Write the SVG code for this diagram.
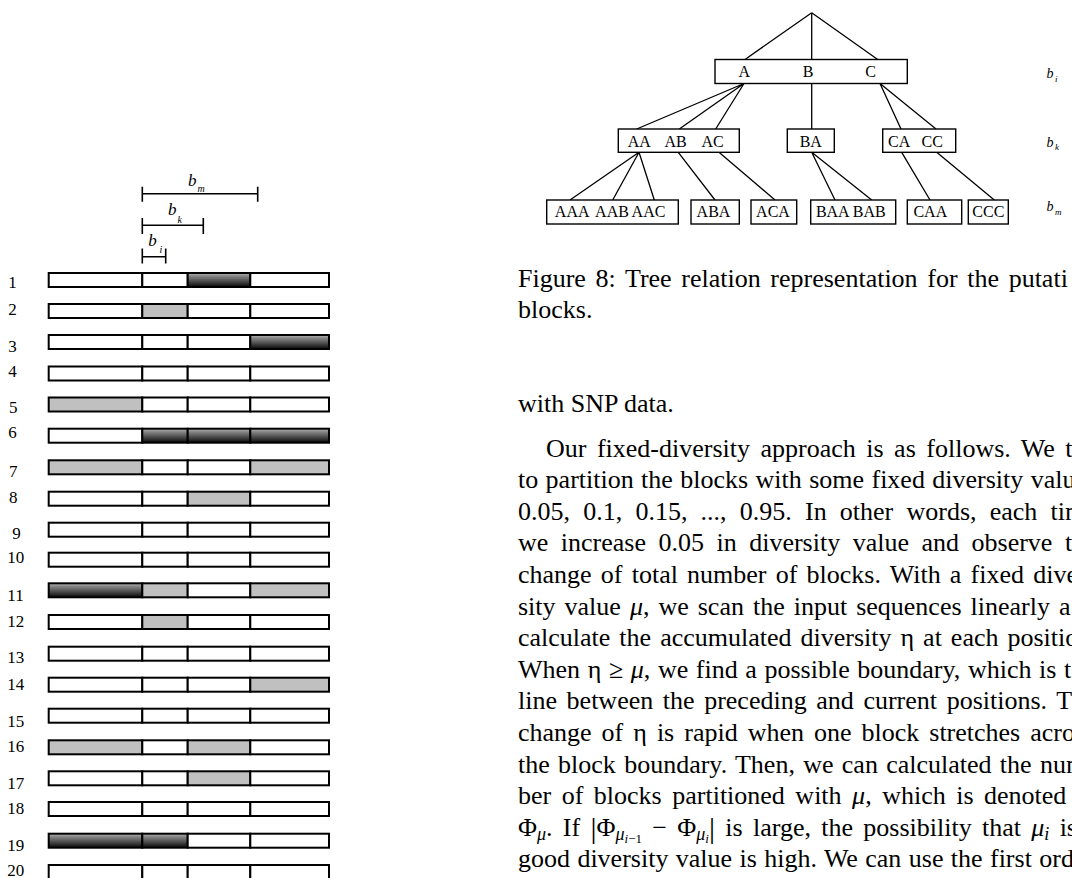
<svg xmlns="http://www.w3.org/2000/svg" width="1072" height="878" viewBox="0 0 1072 878">
<defs>
<linearGradient id="dk" x1="0" y1="0" x2="0" y2="1">
<stop offset="0" stop-color="#b8b8b8"/>
<stop offset="0.2" stop-color="#8a8a8a"/>
<stop offset="0.6" stop-color="#4a4a4a"/>
<stop offset="1" stop-color="#080808"/>
</linearGradient>
</defs>
<style>
.s{font-family:"Liberation Serif","Times New Roman",serif}
.lbl{font-size:17px}
.t{font-size:16px;text-anchor:middle}
.body{font-size:26px}
.it{font-style:italic}
.seg{stroke:#000;stroke-width:2}
.w{fill:#fff}
.g{fill:#c0c0c0}
.d{fill:url(#dk)}
.ln{stroke:#000;stroke-width:1.3;fill:none}
.box{fill:#fff;stroke:#000;stroke-width:1.4}
.dim{stroke:#000;stroke-width:1.6;fill:none}
</style>
<rect width="1072" height="878" fill="#fff"/>

<!-- left figure: scale bars -->
<g id="scales">
<path class="dim" d="M142.3 193.7H257.7M142.3 186.7V201.7M257.7 186.7V201.7"/>
<path class="dim" d="M142.3 225.3H203.3M142.3 218V234M203.3 218V234"/>
<path class="dim" d="M142.3 256.7H165.7M142.3 248.5V263.5M165.7 248.5V263.5"/>
<text class="s it" x="188" y="186" font-size="17">b</text><text class="s it" x="197.5" y="191.5" font-size="10">m</text>
<text class="s it" x="168" y="215" font-size="17">b</text><text class="s it" x="177.5" y="223" font-size="10">k</text>
<text class="s it" x="148.3" y="246" font-size="17">b</text><text class="s it" x="159.5" y="252.5" font-size="10">i</text>
</g>

<!-- rows -->
<g id="row1"><text class="s lbl" x="8.3" y="288">1</text><rect class="seg w" x="48.7" y="273" width="93.6" height="14"/><rect class="seg w" x="142.3" y="273" width="45.4" height="14"/><rect class="seg d" x="187.7" y="273" width="62.6" height="14"/><rect class="seg w" x="250.3" y="273" width="78.7" height="14"/></g>
<g id="row2"><text class="s lbl" x="8.3" y="315">2</text><rect class="seg w" x="48.7" y="304" width="93.6" height="14"/><rect class="seg g" x="142.3" y="304" width="45.4" height="14"/><rect class="seg w" x="187.7" y="304" width="62.6" height="14"/><rect class="seg w" x="250.3" y="304" width="78.7" height="14"/></g>
<g id="row3"><text class="s lbl" x="8.3" y="352">3</text><rect class="seg w" x="48.7" y="335" width="93.6" height="14"/><rect class="seg w" x="142.3" y="335" width="45.4" height="14"/><rect class="seg w" x="187.7" y="335" width="62.6" height="14"/><rect class="seg d" x="250.3" y="335" width="78.7" height="14"/></g>
<g id="row4"><text class="s lbl" x="8.3" y="377">4</text><rect class="seg w" x="48.7" y="366.5" width="93.6" height="14"/><rect class="seg w" x="142.3" y="366.5" width="45.4" height="14"/><rect class="seg w" x="187.7" y="366.5" width="62.6" height="14"/><rect class="seg w" x="250.3" y="366.5" width="78.7" height="14"/></g>
<g id="row5"><text class="s lbl" x="9" y="413">5</text><rect class="seg g" x="48.7" y="397.5" width="93.6" height="14"/><rect class="seg w" x="142.3" y="397.5" width="45.4" height="14"/><rect class="seg w" x="187.7" y="397.5" width="62.6" height="14"/><rect class="seg w" x="250.3" y="397.5" width="78.7" height="14"/></g>
<g id="row6"><text class="s lbl" x="8.3" y="437.5">6</text><rect class="seg w" x="48.7" y="428.7" width="93.6" height="14"/><rect class="seg d" x="142.3" y="428.7" width="45.4" height="14"/><rect class="seg d" x="187.7" y="428.7" width="62.6" height="14"/><rect class="seg d" x="250.3" y="428.7" width="78.7" height="14"/></g>
<g id="row7"><text class="s lbl" x="9" y="476.5">7</text><rect class="seg g" x="48.7" y="460.3" width="93.6" height="14"/><rect class="seg w" x="142.3" y="460.3" width="45.4" height="14"/><rect class="seg w" x="187.7" y="460.3" width="62.6" height="14"/><rect class="seg g" x="250.3" y="460.3" width="78.7" height="14"/></g>
<g id="row8"><text class="s lbl" x="9" y="502.7">8</text><rect class="seg w" x="48.7" y="491.7" width="93.6" height="14"/><rect class="seg w" x="142.3" y="491.7" width="45.4" height="14"/><rect class="seg g" x="187.7" y="491.7" width="62.6" height="14"/><rect class="seg w" x="250.3" y="491.7" width="78.7" height="14"/></g>
<g id="row9"><text class="s lbl" x="12.3" y="539">9</text><rect class="seg w" x="48.7" y="522.7" width="93.6" height="14"/><rect class="seg w" x="142.3" y="522.7" width="45.4" height="14"/><rect class="seg w" x="187.7" y="522.7" width="62.6" height="14"/><rect class="seg w" x="250.3" y="522.7" width="78.7" height="14"/></g>
<g id="row10"><text class="s lbl" x="7.3" y="563.3">10</text><rect class="seg w" x="48.7" y="552.7" width="93.6" height="14"/><rect class="seg w" x="142.3" y="552.7" width="45.4" height="14"/><rect class="seg w" x="187.7" y="552.7" width="62.6" height="14"/><rect class="seg w" x="250.3" y="552.7" width="78.7" height="14"/></g>
<g id="row11"><text class="s lbl" x="7.3" y="600.7">11</text><rect class="seg d" x="48.7" y="583.3" width="93.6" height="14"/><rect class="seg g" x="142.3" y="583.3" width="45.4" height="14"/><rect class="seg w" x="187.7" y="583.3" width="62.6" height="14"/><rect class="seg g" x="250.3" y="583.3" width="78.7" height="14"/></g>
<g id="row12"><text class="s lbl" x="7.3" y="627">12</text><rect class="seg w" x="48.7" y="615" width="93.6" height="14"/><rect class="seg g" x="142.3" y="615" width="45.4" height="14"/><rect class="seg w" x="187.7" y="615" width="62.6" height="14"/><rect class="seg w" x="250.3" y="615" width="78.7" height="14"/></g>
<g id="row13"><text class="s lbl" x="7.3" y="663.3">13</text><rect class="seg w" x="48.7" y="646.7" width="93.6" height="14"/><rect class="seg w" x="142.3" y="646.7" width="45.4" height="14"/><rect class="seg w" x="187.7" y="646.7" width="62.6" height="14"/><rect class="seg w" x="250.3" y="646.7" width="78.7" height="14"/></g>
<g id="row14"><text class="s lbl" x="7.3" y="690">14</text><rect class="seg w" x="48.7" y="677.7" width="93.6" height="14"/><rect class="seg w" x="142.3" y="677.7" width="45.4" height="14"/><rect class="seg w" x="187.7" y="677.7" width="62.6" height="14"/><rect class="seg g" x="250.3" y="677.7" width="78.7" height="14"/></g>
<g id="row15"><text class="s lbl" x="7.3" y="726.7">15</text><rect class="seg w" x="48.7" y="708.7" width="93.6" height="14"/><rect class="seg w" x="142.3" y="708.7" width="45.4" height="14"/><rect class="seg w" x="187.7" y="708.7" width="62.6" height="14"/><rect class="seg w" x="250.3" y="708.7" width="78.7" height="14"/></g>
<g id="row16"><text class="s lbl" x="7.3" y="751.7">16</text><rect class="seg g" x="48.7" y="740.3" width="93.6" height="14"/><rect class="seg w" x="142.3" y="740.3" width="45.4" height="14"/><rect class="seg g" x="187.7" y="740.3" width="62.6" height="14"/><rect class="seg w" x="250.3" y="740.3" width="78.7" height="14"/></g>
<g id="row17"><text class="s lbl" x="7.3" y="789.3">17</text><rect class="seg w" x="48.7" y="771.3" width="93.6" height="14"/><rect class="seg w" x="142.3" y="771.3" width="45.4" height="14"/><rect class="seg g" x="187.7" y="771.3" width="62.6" height="14"/><rect class="seg w" x="250.3" y="771.3" width="78.7" height="14"/></g>
<g id="row18"><text class="s lbl" x="7.3" y="814">18</text><rect class="seg w" x="48.7" y="802" width="93.6" height="14"/><rect class="seg w" x="142.3" y="802" width="45.4" height="14"/><rect class="seg w" x="187.7" y="802" width="62.6" height="14"/><rect class="seg w" x="250.3" y="802" width="78.7" height="14"/></g>
<g id="row19"><text class="s lbl" x="7.3" y="850.7">19</text><rect class="seg d" x="48.7" y="833.7" width="93.6" height="14"/><rect class="seg d" x="142.3" y="833.7" width="45.4" height="14"/><rect class="seg w" x="187.7" y="833.7" width="62.6" height="14"/><rect class="seg w" x="250.3" y="833.7" width="78.7" height="14"/></g>
<g id="row20"><text class="s lbl" x="7.3" y="876">20</text><rect class="seg w" x="48.7" y="865" width="93.6" height="14"/><rect class="seg w" x="142.3" y="865" width="45.4" height="14"/><rect class="seg w" x="187.7" y="865" width="62.6" height="14"/><rect class="seg w" x="250.3" y="865" width="78.7" height="14"/></g>

<!-- tree connectors -->
<g id="connectors">
<path class="ln" d="M811.7 12.7L745 59.5M811.7 12.7V59.5M811.7 12.7L877.7 59.5"/>
<path class="ln" d="M744 83.5L636.7 129M744 83.5L679.3 129M744 83.5L715.7 129M811.7 83.5V129M880 83.5L901 129M880 83.5L936 129"/>
<path class="ln" d="M639 152.3L570 200M639 152.3L612.7 200M639 152.3L654.3 200M678.3 152.3L715 200M719 152.3L775 200M811.7 152.3L835 200M811.7 152.3L871.7 200M901.7 152.3L930 200M936.7 152.3L994.3 200"/>
</g>

<!-- tree nodes -->
<g id="nodeABC"><rect class="box" x="715" y="59.5" width="192.3" height="24"/><text class="s t" x="744.3" y="77.3">A</text><text class="s t" x="808" y="77.3">B</text><text class="s t" x="870.5" y="77.3">C</text></g>
<g id="nodeAA"><rect class="box" x="618.3" y="129" width="121" height="23.3"/><text class="s t" x="639.2" y="147.3">AA</text><text class="s t" x="675.5" y="147.3">AB</text><text class="s t" x="712.5" y="147.3">AC</text></g>
<g id="nodeBA"><rect class="box" x="787.3" y="129" width="47" height="23.3"/><text class="s t" x="810.8" y="147.3">BA</text></g>
<g id="nodeCA"><rect class="box" x="882.7" y="129" width="73" height="23.3"/><text class="s t" x="899.2" y="147.3">CA</text><text class="s t" x="932.2" y="147.3">CC</text></g>
<g id="nodeAAA"><rect class="box" x="546.7" y="200" width="131.6" height="24"/><text class="s t" x="572.2" y="216.7">AAA</text><text class="s t" x="612" y="216.7">AAB</text><text class="s t" x="648.5" y="216.7">AAC</text></g>
<g id="nodeABA"><rect class="box" x="691" y="200" width="48.3" height="24"/><text class="s t" x="713.5" y="216.7">ABA</text></g>
<g id="nodeACA"><rect class="box" x="751" y="200" width="45.7" height="24"/><text class="s t" x="773" y="216.7">ACA</text></g>
<g id="nodeBAA"><rect class="box" x="810.7" y="200" width="85" height="24"/><text class="s t" x="850.8" y="216.7">BAA BAB</text></g>
<g id="nodeCAA"><rect class="box" x="907.3" y="200" width="54.4" height="24"/><text class="s t" x="930.3" y="216.7">CAA</text></g>
<g id="nodeCCC"><rect class="box" x="968.3" y="200" width="40" height="24"/><text class="s t" x="988.3" y="216.7">CCC</text></g>
<g id="levels">
<text class="s it" x="1046.5" y="78" font-size="14">b</text><text class="s it" x="1055" y="81.5" font-size="9">i</text>
<text class="s it" x="1046.5" y="146.7" font-size="14">b</text><text class="s it" x="1055" y="150.2" font-size="9">k</text>
<text class="s it" x="1046.5" y="211" font-size="14">b</text><text class="s it" x="1055" y="214.5" font-size="9">m</text>
</g>

<!-- caption and body text -->
<g id="text" class="s body">
<text x="518" y="286.7" word-spacing="3.15">Figure 8: Tree relation representation for the putati</text>
<text x="518" y="318.3">blocks.</text>
<text x="518" y="412">with SNP data.</text>
<text x="546" y="456.5" word-spacing="4">Our fixed-diversity approach is as follows. We t</text>
<text x="518" y="488.1" word-spacing="0.9">to partition the blocks with some fixed diversity valu</text>
<text x="518" y="519.7" word-spacing="6.7">0.05, 0.1, 0.15, ..., 0.95. In other words, each tim</text>
<text x="518" y="551.3" word-spacing="6">we increase 0.05 in diversity value and observe t</text>
<text x="518" y="582.9" word-spacing="2.7">change of total number of blocks. With a fixed dive</text>
<text x="518" y="614.5" word-spacing="2.5">sity value <tspan class="it">μ</tspan>, we scan the input sequences linearly a</text>
<text x="518" y="646.1" word-spacing="2.5">calculate the accumulated diversity η at each positio</text>
<text x="518" y="677.7" word-spacing="1.1">When η ≥ <tspan class="it">μ</tspan>, we find a possible boundary, which is t</text>
<text x="518" y="709.3" word-spacing="3.1">line between the preceding and current positions. T</text>
<text x="518" y="740.9" word-spacing="3.5">change of η is rapid when one block stretches acro</text>
<text x="518" y="772.5" word-spacing="1.8">the block boundary. Then, we can calculated the num</text>
<text x="518" y="804.1" word-spacing="4">ber of blocks partitioned with <tspan class="it">μ</tspan>, which is denoted</text>
<text x="518" y="835.7" word-spacing="3.8">Φ<tspan class="it" font-size="18" dy="4">μ</tspan><tspan dy="-4">. If </tspan><tspan font-size="30" dy="2">|</tspan><tspan dy="-2">Φ</tspan><tspan class="it" font-size="18" dy="4">μ</tspan><tspan class="it" font-size="13" dy="3">i</tspan><tspan font-size="13">−1</tspan><tspan dy="-7"> − Φ</tspan><tspan class="it" font-size="18" dy="4">μ</tspan><tspan class="it" font-size="13" dy="3">i</tspan><tspan font-size="30" dy="-5">|</tspan><tspan dy="-2"> is large, the possibility that </tspan><tspan class="it">μ</tspan><tspan class="it" font-size="18" dy="4">i</tspan><tspan dy="-4"> is</tspan></text>
<text x="518" y="867.3" word-spacing="0.9">good diversity value is high. We can use the first ord</text>
</g>
</svg>
